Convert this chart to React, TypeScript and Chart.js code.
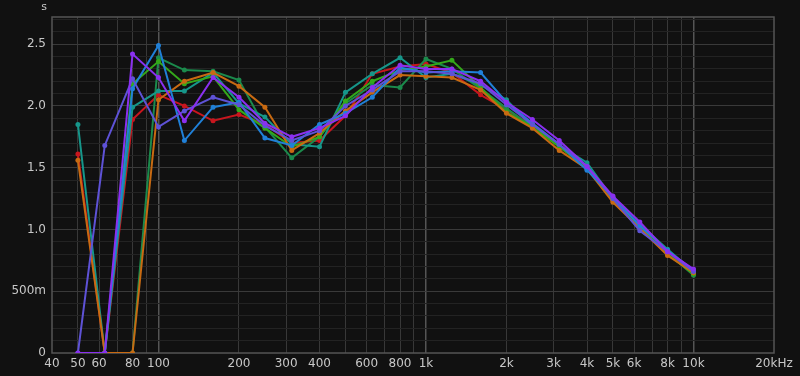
import React, { useEffect, useRef } from "react";
import { Chart, registerables } from "chart.js";

Chart.register(...registerables);

const freqs = [50, 63, 80, 100, 125, 160, 200, 250, 315, 400, 500, 630, 800, 1000, 1250, 1600, 2000, 2500, 3150, 4000, 5000, 6300, 8000, 10000];

const red = [1.61, 0, 1.89, 2.09, 2.0, 1.88, 1.93, 1.85, 1.7, 1.72, 1.92, 2.26, 2.32, 2.34, 2.27, 2.09, 1.97, 1.84, 1.67, 1.5, 1.23, 1.02, 0.81, 0.66];
const orange = [1.56, 0, 0, 2.05, 2.2, 2.27, 2.16, 1.99, 1.64, 1.78, 1.96, 2.11, 2.25, 2.24, 2.23, 2.13, 1.94, 1.82, 1.64, 1.49, 1.22, 1.01, 0.79, 0.65];
const teal = [1.85, 0, 1.99, 2.12, 2.12, 2.27, 2.02, 1.91, 1.69, 1.67, 2.11, 2.26, 2.39, 2.23, 2.26, 2.17, 2.05, 1.83, 1.68, 1.54, 1.25, 1.04, 0.84, 0.66];
const darkGreen = [null, 0, 0, 2.39, 2.29, 2.28, 2.21, 1.83, 1.58, 1.75, 2.02, 2.17, 2.15, 2.38, 2.3, 2.14, 1.98, 1.83, 1.67, 1.5, 1.24, 1.02, 0.81, 0.63];
const brightGreen = [null, 0, 2.18, 2.36, 2.18, 2.24, 1.97, 1.82, 1.67, 1.75, 2.04, 2.2, 2.29, 2.32, 2.37, 2.15, 1.95, 1.83, 1.67, 1.5, 1.24, 1.02, 0.8, 0.64];
const blue = [null, 0, 2.14, 2.49, 1.72, 1.99, 2.03, 1.74, 1.68, 1.85, 1.94, 2.07, 2.31, 2.27, 2.28, 2.27, 2.03, 1.86, 1.69, 1.48, 1.26, 1.03, 0.83, 0.67];
const slate = [0, 1.68, 2.22, 1.83, 1.96, 2.07, 2.01, 1.84, 1.72, 1.8, 2.0, 2.13, 2.28, 2.28, 2.26, 2.18, 2.01, 1.85, 1.69, 1.51, 1.25, 0.99, 0.82, 0.66];
const purple = [0, 0, 2.42, 2.23, 1.88, 2.23, 2.07, 1.86, 1.75, 1.82, 1.92, 2.15, 2.33, 2.3, 2.3, 2.2, 2.03, 1.89, 1.72, 1.51, 1.27, 1.06, 0.82, 0.68];

// first entry is drawn on top
const seriesList: [string, (number | null)[], string][] = [
  ["purple", purple, "#8a30f0"],
  ["slate", slate, "#5e52d6"],
  ["blue", blue, "#2080d8"],
  ["orange", orange, "#c86a12"],
  ["brightGreen", brightGreen, "#34a81a"],
  ["teal", teal, "#16968a"],
  ["darkGreen", darkGreen, "#1b8a4c"],
  ["red", red, "#c8161e"],
];

const xTicks = [40, 50, 60, 70, 80, 90, 100, 200, 300, 400, 500, 600, 700, 800, 900, 1000, 2000, 3000, 4000, 5000, 6000, 7000, 8000, 9000, 10000, 20000];
const xLabels: Record<number, string> = {
  40: "40", 50: "50", 60: "60", 80: "80", 100: "100", 200: "200", 300: "300", 400: "400", 600: "600", 800: "800",
  1000: "1k", 2000: "2k", 3000: "3k", 4000: "4k", 5000: "5k", 6000: "6k", 8000: "8k", 10000: "10k", 20000: "20kHz",
};
const yTicks = [0, 0.1, 0.2, 0.3, 0.4, 0.5, 0.6, 0.7, 0.8, 0.9, 1.0, 1.1, 1.2, 1.3, 1.4, 1.5, 1.6, 1.7, 1.8, 1.9, 2.0, 2.1, 2.2, 2.3, 2.4, 2.5, 2.6, 2.7];
const yLabels: Record<string, string> = { "0.0": "0", "0.5": "500m", "1.0": "1.0", "1.5": "1.5", "2.0": "2.0", "2.5": "2.5" };

const FONT = "'DejaVu Sans', sans-serif";

export default function App() {
  const ref = useRef<HTMLCanvasElement>(null);
  useEffect(() => {
    document.body.style.margin = "0";
    document.body.style.background = "#111111";
    const canvas = ref.current!;
    const framePlugin = {
      id: "frame",
      beforeDatasetsDraw(chart: any) {
        const { ctx, chartArea: a } = chart;
        ctx.save();
        ctx.strokeStyle = "#555555";
        ctx.lineWidth = 1.5;
        ctx.strokeRect(a.left, a.top, a.right - a.left, a.bottom - a.top);
        ctx.restore();
      },
      afterDraw(chart: any) {
        const { ctx } = chart;
        ctx.save();
        ctx.fillStyle = "#c8c8c8";
        ctx.font = `11px ${FONT}`;
        ctx.textAlign = "center";
        ctx.textBaseline = "middle";
        ctx.fillText("s", 44, 7);
        ctx.restore();
      },
    };
    const chart = new Chart(canvas, {
      type: "line",
      data: {
        datasets: seriesList.map(([name, vals, color]) => ({
          label: name,
          data: freqs.map((f, i) => ({ x: f, y: vals[i] })).filter((p) => p.y !== null) as any,
          borderColor: color,
          backgroundColor: color,
          borderWidth: 2,
          pointRadius: 2.5,
          pointHoverRadius: 2.5,
          pointBorderWidth: 0,
          tension: 0,
          fill: false,
        })),
      },
      options: {
        animation: false,
        responsive: false,
        maintainAspectRatio: false,
        layout: { padding: { top: 17, right: 26, left: 0, bottom: 0 } },
        plugins: { legend: { display: false }, tooltip: { enabled: false } },
        scales: {
          x: {
            type: "logarithmic",
            min: 40,
            max: 20000,
            afterBuildTicks: (s: any) => {
              s.ticks = xTicks.map((v) => ({ value: v }));
            },
            afterFit: (s: any) => {
              s.height = 23;
            },
            ticks: {
              autoSkip: false,
              maxRotation: 0,
              minRotation: 0,
              padding: 4,
              color: "#c8c8c8",
              font: { family: FONT, size: 12 },
              callback: (v: any) => xLabels[Number(v)] ?? "",
            },
            grid: {
              drawTicks: false,
              lineWidth: (c: any) => ([100, 1000, 10000].includes(c.tick?.value) ? 1.5 : 1),
              color: (c: any) => {
                const v = c.tick?.value;
                if (v === 40 || v === 20000) return "rgba(0,0,0,0)";
                if (v === 100 || v === 1000 || v === 10000) return "#555555";
                return "#383838";
              },
            },
            border: { display: false },
          },
          y: {
            type: "linear",
            min: 0,
            max: 2.72,
            afterBuildTicks: (s: any) => {
              s.ticks = yTicks.map((v) => ({ value: v }));
            },
            afterFit: (s: any) => {
              s.width = 52;
            },
            ticks: {
              autoSkip: false,
              padding: 6,
              color: "#c8c8c8",
              font: { family: FONT, size: 12 },
              callback: (v: any) => yLabels[Number(v).toFixed(1)] ?? "",
            },
            grid: {
              drawTicks: false,
              color: (c: any) => {
                const v = c.tick?.value;
                if (v === undefined) return "#262626";
                if (Math.abs(v) < 1e-6) return "rgba(0,0,0,0)";
                const r = Math.round(v * 10);
                return r % 5 === 0 ? "#3a3a3a" : "#232323";
              },
            },
            border: { display: false },
          },
        },
      },
      plugins: [framePlugin],
    });
    return () => chart.destroy();
  }, []);
  return (
    <div style={{ width: 800, height: 376, background: "#111111" }}>
      <canvas ref={ref} width={800} height={376} style={{ display: "block", width: 800, height: 376 }} />
    </div>
  );
}
